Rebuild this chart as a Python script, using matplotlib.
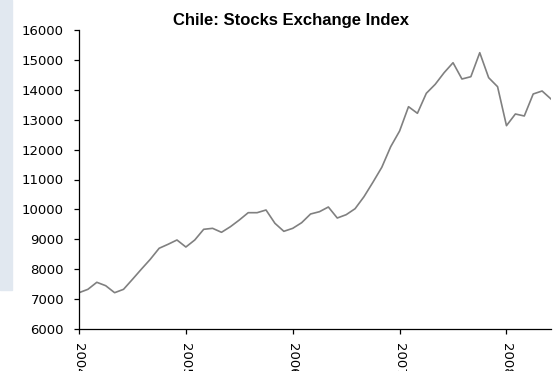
import numpy as np
import matplotlib
matplotlib.use("Agg")
import matplotlib.pyplot as plt
from matplotlib.patches import Rectangle

# 月次の株価指数 (2004年1月〜2008年6月)
index_values = [
    7214, 7327, 7562, 7448, 7214, 7327, 7660, 8000, 8330, 8700, 8833, 8977,
    8742, 8977, 9334, 9367, 9234, 9421, 9645, 9890, 9890, 9980, 9535, 9267,
    9367, 9555, 9846, 9923, 10080, 9712, 9823, 10023, 10425, 10906, 11408, 12097,
    12622, 13435, 13214, 13883, 14184, 14573, 14906, 14361, 14438, 15241, 14405, 14104,
    12800, 13191, 13124, 13860, 13960, 13692,
]
year_labels = ["2004", "2005", "2006", "2007", "2008"]
y_ticks = [6000, 7000, 8000, 9000, 10000, 11000, 12000, 13000, 14000, 15000, 16000]

months = np.arange(len(index_values))

fig = plt.figure(figsize=(5.54, 3.71), dpi=100)
# 左端の薄い青の帯
fig.patches.append(Rectangle((0, 1 - 290 / 371), 12 / 554, 290 / 371,
                             transform=fig.transFigure, color="#e1e8f0", zorder=0))

ax = fig.add_axes([79 / 554, 1 - 329 / 371, (551 - 79) / 554, (329 - 30) / 371])
ax.plot(months, index_values, color="#808080", linewidth=1.2)

ax.set_xlim(0, len(index_values) - 1)
ax.set_ylim(6000, 16000)
ax.set_yticks(y_ticks)
ax.set_xticks(np.arange(0, len(index_values), 12))
ax.set_xticklabels(year_labels, rotation=270)

for side in ["top", "right"]:
    ax.spines[side].set_visible(False)
for side in ["left", "bottom"]:
    ax.spines[side].set_linewidth(0.9)
ax.tick_params(axis="both", direction="out", length=3.5, width=0.9,
               labelsize=9.5)
ax.tick_params(axis="y", pad=7.3)
ax.tick_params(axis="x", pad=6.5)

fig.text(291 / 554, 1 - 20 / 371, "Chile: Stocks Exchange Index",
         ha="center", va="center", fontsize=12, fontweight="bold",
         family="Liberation Sans")

fig.savefig("out.png", dpi=100)
